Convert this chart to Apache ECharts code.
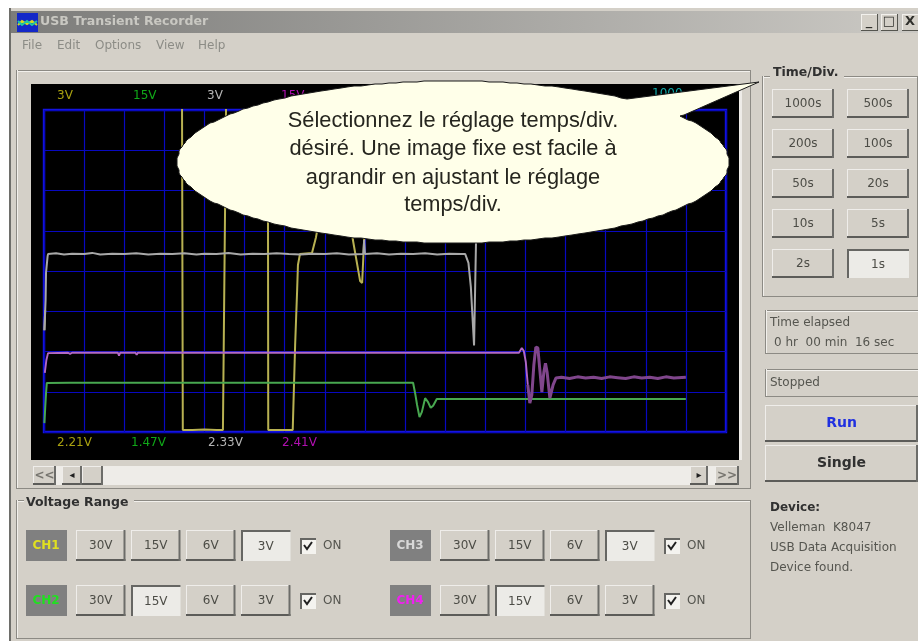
<!DOCTYPE html>
<html><head><meta charset="utf-8">
<style>html,body{margin:0;padding:0;background:#fff}#main{width:918px;height:641px;filter:blur(0.7px)}</style>
<script src="https://cdn.jsdelivr.net/npm/echarts@6/dist/echarts.min.js"></script>
</head><body><div id="main"></div>
<script>
// ---- Data: x = time divisions, y = voltage divisions ----
const ch1Trace = [[0.01,2.53],[0.03,3.03],null,
 [3.44,8.3],[3.46,0.05],[3.7,0.05],[4.0,0.06],[4.3,0.05],[4.46,0.05],[4.54,8.3],null,
 [5.58,8.3],[5.59,0.05],[5.85,0.05],[6.15,0.05],[6.2,0.05],[6.26,2.16],[6.31,3.53],[6.33,4.15],[6.38,4.42],[6.68,4.45],[6.78,4.84],[6.9,5.5],[7.3,6.5],[7.6,5.6],[7.70,4.77],[7.88,3.75],[7.93,3.70],[7.98,4.77],[8.03,5.76]];
const ch2Trace = [[0.01,0.22],[0.03,0.6],[0.05,0.95],[0.07,1.22],[0.63,1.225],[0.65,1.19],[0.67,1.225],[3.17,1.225],[3.19,1.19],[3.21,1.225],[3.67,1.225],[3.69,1.19],[3.71,1.225],[3.92,1.225],[3.94,1.19],[3.96,1.225],[4.22,1.225],[4.24,1.19],[4.26,1.225],[5.61,1.225],[5.63,1.19],[5.65,1.225],[6.73,1.225],[6.75,1.19],[6.77,1.225],[7.31,1.225],[7.33,1.19],[7.35,1.225],[8.06,1.225],[8.08,1.19],[8.10,1.225],[9.2,1.225],[9.25,0.97],[9.30,0.67],[9.36,0.37],[9.42,0.5],[9.50,0.84],[9.57,0.75],[9.64,0.6],[9.70,0.65],[9.79,0.82],[9.99,0.82],[16.0,0.82]];
const ch3Trace = [[0.01,2.53],[0.04,3.28],[0.05,3.95],[0.09,4.37],[0.10,4.42],[0.3,4.44],[0.5,4.41],[0.7,4.43],[1.0,4.42],[1.2,4.45],[1.4,4.41],[1.7,4.43],[2.0,4.42],[2.3,4.44],[2.6,4.41],[2.9,4.43],[3.2,4.42],[3.5,4.44],[3.8,4.41],[4.0,4.43],[4.3,4.42],[4.6,4.45],[4.9,4.41],[5.2,4.43],[5.5,4.42],[5.8,4.44],[6.1,4.42],[6.4,4.41],[6.7,4.43],[7.0,4.42],[7.3,4.44],[7.6,4.41],[7.96,4.42],[7.98,4.77],[8.0,4.42],[8.3,4.44],[8.6,4.41],[8.9,4.43],[9.2,4.42],[9.5,4.44],[9.8,4.41],[10.1,4.43],[10.4,4.42],[10.5,4.42],[10.58,4.2],[10.64,3.6],[10.72,2.15],[10.74,2.15],[10.77,4.8],[10.8,5.5]];
const ch4Trace = [[0.02,1.47],[0.06,1.79],[0.10,1.96],[0.6,1.97],[0.65,1.94],[0.7,1.97],[1.84,1.97],[1.87,1.90],[1.9,1.97],[2.28,1.97],[2.31,1.92],[2.34,1.97],[3.4,1.97],[3.43,1.94],[3.46,1.97],[4.35,1.97],[4.38,1.93],[4.41,1.97],[5.6,1.97],[5.63,1.93],[5.66,1.97],[6.5,1.97],[6.53,1.93],[6.56,1.97],[7.6,1.97],[7.63,1.94],[7.66,1.97],[8.7,1.97],[8.73,1.94],[8.76,1.97],[10.0,1.97],[10.03,1.94],[10.06,1.97],[11.84,1.97],[11.91,2.09],[11.96,2.01],[12.01,1.74],[12.06,1.17]];
const ch4Ringing = [[12.06,1.17],[12.11,0.72],[12.16,0.92],[12.21,1.66],[12.26,2.11],[12.31,2.09],[12.36,1.54],[12.41,0.99],[12.46,1.49],[12.5,1.71],[12.54,1.49],[12.61,0.84],[12.69,1.17],[12.76,1.34],[12.9,1.36],[13.1,1.33],[13.3,1.37],[13.5,1.34],[13.7,1.36],[13.9,1.33],[14.1,1.37],[14.3,1.35],[14.5,1.33],[14.7,1.37],[14.9,1.34],[15.1,1.36],[15.3,1.33],[15.5,1.37],[15.7,1.34],[16.0,1.36]];

const rangeTop = ['3V','15V','3V','15V'];
const readouts = ['2.21V','1.47V','2.33V','2.41V'];
const timeReadout = '1000';
const titleText = 'USB Transient Recorder';
const menuItems = ['File','Edit','Options','View','Help'];
const timeDivLabels = ['1000s','500s','200s','100s','50s','20s','10s','5s','2s','1s'];
const timeDivSelected = '1s';
const voltageLabels = ['30V','15V','6V','3V'];
const channels = ['CH1','CH2','CH3','CH4'];
const channelSelected = ['3V','15V','3V','15V'];
const calloutLines = ['Sélectionnez le réglage temps/div.','désiré. Une image fixe est facile à','agrandir en ajustant le réglage','temps/div.'];
const deviceLines = ['Velleman  K8047','USB Data Acquisition','Device found.'];

// ---- Window chrome ----
const FACE='#d4d0c8', SANS='"DejaVu Sans"', ARIAL='"Liberation Sans"';
const back=[];
function rect(x,y,w,h,fill){back.push({type:'rect',silent:true,z:-5,shape:{x,y,width:w,height:h},style:{fill}});}
function text(t,x,y,font,fill,align){back.push({type:'text',silent:true,z:-4,style:{text:t,x,y,font,fill,textAlign:align||'left',textVerticalAlign:'middle'}});}
function button(x,y,w,h,label,pressed,font,fill){
  if(pressed){
    rect(x,y,w,h,'#ecebe7'); rect(x,y,w,2,'#666663'); rect(x,y,2,h,'#666663');
  }else{
    rect(x,y,w,h,FACE); rect(x,y,w,1,'#efedea'); rect(x,y,1,h,'#efedea');
    rect(x,y+h-2,w,2,'#5c5c59'); rect(x+w-2,y,2,h,'#6c6c69');
  }
  text(label,x+w/2,y+h/2+(pressed?1:0),font||('12px '+SANS),fill||'#4c4c46','center');
}
function groupBox(x,y,w,h){
  rect(x,y,w,1,'#8c8a84'); rect(x,y+1,w,1,'#f2f0ec');
  rect(x,y,1,h,'#8c8a84'); rect(x+1,y,1,h,'#f2f0ec');
  rect(x,y+h,w,1,'#8c8a84'); rect(x+w,y,1,h+1,'#8c8a84');
}
rect(9,8,909,633,FACE);
rect(9,8,2,633,'#6e6e6a');
back.push({type:'rect',silent:true,z:-5,shape:{x:11,y:11,width:907,height:22},style:{fill:{type:'linear',x:0,y:0,x2:1,y2:0,colorStops:[{offset:0,color:'#7c7c7a'},{offset:1,color:'#cbc9c4'}]}}});
rect(17,13,21,19,'#1428c8');
back.push({type:'polyline',silent:true,z:-4,shape:{points:[[18,25],[22,21],[27,24],[32,21],[37,25]]},style:{fill:'none',stroke:'#d8d820',lineWidth:2}});
back.push({type:'polyline',silent:true,z:-4,shape:{points:[[18,21],[22,25],[27,21],[32,25],[37,21]]},style:{fill:'none',stroke:'#20c8a0',lineWidth:2}});
text(titleText,40,22,'bold 12.6px '+SANS,'#c9c8c2');
const menuX=[22,57,95,156,198];
menuItems.forEach((m,i)=>text(m,menuX[i],46,'12px '+SANS,'#8c8c86'));
// window buttons
[[861,'_'],[881,'□'],[902,'X']].forEach(([x,t],i)=>{
  rect(x,14,i==2?16:17,17,FACE); rect(x,14,i==2?16:17,1,'#f2f0ec'); rect(x,14,1,17,'#f2f0ec');
  rect(x,30,i==2?16:17,1,'#55554f'); if(i<2)rect(x+16,14,1,17,'#55554f');
  text(t,x+8,22,'bold 13px '+SANS,'#30302c','center');
});
// scope panel
groupBox(16,70,734,418);
rect(31,84,708,376,'#000000');
rect(739,84,3,376,'#eeece8');
// scope labels
const topX=[57,133,207,281], botX=[57,131,208,282];
const scopeColors=['#a8a010','#10a818','#b4b4b4','#b010b0'];
rangeTop.forEach((t,i)=>text(t,topX[i],96,'12px '+SANS,scopeColors[i]));
readouts.forEach((t,i)=>text(t,botX[i],443,'12px '+SANS,scopeColors[i]));
text(timeReadout,652,94,'12px '+SANS,'#10a8a8');
// scrollbar
rect(33,466,706,19,'#eeece8');
button(33,466,23,19,'<<',false,'bold 12px '+SANS,'#77756f');
button(62,466,20,19,'◂',false,'10px '+SANS,'#202020');
button(82,466,21,19,'',false);
button(690,466,18,19,'▸',false,'10px '+SANS,'#202020');
button(715,466,24,19,'>>',false,'bold 12px '+SANS,'#77756f');
// Time/Div group
groupBox(762,76,155,220);
rect(770,68,74,12,FACE);
text('Time/Div.',773,73,'bold 12.5px '+SANS,'#303030');
timeDivLabels.forEach((t,i)=>{
  const col=i%2,row=(i-col)/2;
  button(col?847:772,89+row*40,62,29,t,t===timeDivSelected);
});
// status
groupBox(765,310,153,43);
text('Time elapsed',770,323,'12px '+SANS,'#55554f');
text('0 hr  00 min  16 sec',774,343,'12px '+SANS,'#55554f');
groupBox(765,369,153,27);
text('Stopped',770,383,'12px '+SANS,'#55554f');
button(765,405,153,37,'Run',false,'bold 14px '+SANS,'#2030e0');
button(765,445,153,37,'Single',false,'bold 14px '+SANS,'#303030');
text('Device:',770,508,'bold 12px '+SANS,'#303030');
deviceLines.forEach((t,i)=>text(t,770,528+i*20,'12px '+SANS,'#55554f'));
// Voltage range
groupBox(16,500,734,138);
rect(24,496,110,10,FACE);
text('Voltage Range',26,503,'bold 12.5px '+SANS,'#303030');
const chColors=['#e0e020','#20e020','#d8d8d8','#f020f0'];
const chPos=[[26,530],[26,585],[390,530],[390,585]];
channels.forEach((c,i)=>{
  const [x,y]=chPos[i];
  rect(x,y,41,31,'#808080');
  text(c,x+20,y+16,'bold 12px '+SANS,chColors[i],'center');
  voltageLabels.forEach((v,j)=>button(x+50+j*55,y,49.5,31,v,v===channelSelected[i]));
  const cx=x+274;
  rect(cx,y+8,16,16,'#f4f3ef'); rect(cx,y+8,16,2,'#666663'); rect(cx,y+8,2,16,'#666663');
  back.push({type:'polyline',silent:true,z:-4,shape:{points:[[cx+4,y+15],[cx+7,y+19],[cx+12,y+12]]},style:{fill:'none',stroke:'#202020',lineWidth:2}});
  text('ON',cx+23,y+16,'12px '+SANS,'#55554f');
});
// callout balloon: ellipse with a tail pointing at the Time/Div group
const cxB=453,cyB=162,rx=276,ry=81,outline=[];
let tailDone=false;
for(let a=0;a<360;a+=1.5){
  const r=a*Math.PI/180,px=cxB+rx*Math.cos(r),py=cyB+ry*Math.sin(r);
  if(py<cyB&&px>627&&py<116){ if(!tailDone){outline.push([627,99],[759,82],[684,115]);tailDone=true;} continue; }
  outline.push([Math.round(px),Math.round(py)]);
}
const fr=[{type:'polygon',silent:true,z:100,shape:{points:outline},style:{fill:'#ffffe9',stroke:'#1a1a1a',lineWidth:1}}];
calloutLines.forEach((t,i)=>fr.push({type:'text',silent:true,z:110,style:{text:t,x:453,y:[121,149,178,205][i],font:'21.8px '+ARIAL,fill:'#26261f',textAlign:'center',textVerticalAlign:'middle'}}));

const trace=(name,data,color,width,z)=>({name,type:'line',data:data.map(p=>p===null?[null,null]:p),showSymbol:false,symbol:'none',silent:true,smooth:false,connectNulls:false,clip:true,animation:false,z:z||3,lineStyle:{color,width}});

const chart=echarts.init(document.getElementById('main'),null,{width:918,height:641});
chart.setOption({
  animation:false,
  backgroundColor:'transparent',
  grid:{left:44,top:110,width:682,height:322,show:true,borderColor:'#1414e0',borderWidth:2.4,backgroundColor:'transparent',containLabel:false},
  xAxis:{type:'value',min:0,max:17,interval:1,axisLabel:{show:false},axisTick:{show:false},axisLine:{show:false},splitLine:{show:true,lineStyle:{color:'#0808c0',width:1.2}}},
  yAxis:{type:'value',min:0,max:8,interval:1,axisLabel:{show:false},axisTick:{show:false},axisLine:{show:false},splitLine:{show:true,lineStyle:{color:'#0808c0',width:1.2}}},
  series:[
    trace('CH1',ch1Trace,'#b8b152',2,3),
    trace('CH2',ch2Trace,'#48a850',2,4),
    trace('CH3',ch3Trace,'#a8a8a8',2,5),
    trace('CH4',ch4Trace,'#b268c4',1.9,6),
    trace('CH4 ringing',ch4Ringing,'#80468c',3,6)
  ],
  graphic:{elements:[{type:'group',silent:true,z:-5,children:back},{type:'group',silent:true,z:100,children:fr}]}
});
</script></body></html>
